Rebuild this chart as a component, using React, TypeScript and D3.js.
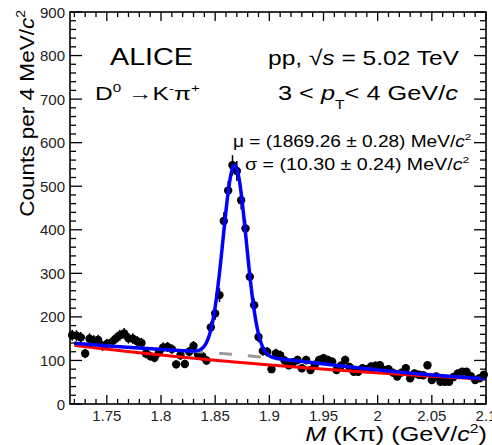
import React, { useEffect, useRef } from "react";
import * as d3 from "d3";

// ---------------- data ----------------
const BIN_LOW = 1.716; // GeV/c^2, lower edge of first bin
const BIN_WIDTH = 0.004; // 4 MeV/c^2
const counts = [
  158, 157, 153, 116, 150, 146, 147, 133, 138, 141,
  150, 158, 162, 151, 150, 144, 140, 116, 110, 106,
  118, 130, 131, 126, 91, 112, 92, 120, 133, 115,
  110, 100, 176, 208, 250, 420, 490, 548, 535, 468,
  403, 292, 227, 154, 122, 120, 80, 116, 112, 100,
  89, 96, 101, 82, 101, 78, 90, 101, 105, 101,
  97, 78, 88, 101, 85, 74, 74, 82, 80, 86,
  88, 89, 78, 80, 72, 63, 72, 82, 59, 70,
  67, 66, 89, 55, 63, 51, 51, 51, 62, 70,
  74, 74, 64, 55, 59, 67,
];
const X_DOMAIN = [1.716, 2.1];
const Y_DOMAIN = [0, 900];
const xMajorTicks = [1.75, 1.8, 1.85, 1.9, 1.95, 2.0, 2.05, 2.1];
const xTickLabels = ["1.75", "1.8", "1.85", "1.9", "1.95", "2", "2.05", "2.1"];
const yMajorTicks = [0, 100, 200, 300, 400, 500, 600, 700, 800, 900];
const yTickLabels = ["0", "100", "200", "300", "400", "500", "600", "700", "800", "900"];
const xMinorStep = 0.01;
const yMinorStep = 20;
// fit parameters (as drawn in the picture)
const FIT_RANGE = [1.72, 2.1];
const bkgParams = [136, 2.26]; // A * exp(-b (m - BIN_LOW))
const reflParams = [17, 1.87, 0.095]; // amplitude, centre, width
const signalParams = [435, 1.868, 0.0107]; // amplitude, mu, sigma

const FONT = "'Liberation Sans', Arial, Helvetica, sans-serif";

type Part = { t: string; it?: boolean; sup?: boolean; sub?: boolean };

export default function App() {
  const ref = useRef<SVGSVGElement | null>(null);

  useEffect(() => {
    const W = 492,
      H = 445;
    const L = 70,
      R = 486,
      T = 12,
      B = 404;
    const svg = d3.select(ref.current);
    svg.selectAll("*").remove();
    svg.append("rect").attr("width", W).attr("height", H).attr("fill", "#fff");

    const x = d3.scaleLinear().domain(X_DOMAIN).range([L, R]);
    const y = d3.scaleLinear().domain(Y_DOMAIN).range([B, T]);

    const bkg = (m: number) => bkgParams[0] * Math.exp(-bkgParams[1] * (m - BIN_LOW));
    const refl = (m: number) =>
      reflParams[0] * Math.exp(-((m - reflParams[1]) ** 2) / (2 * reflParams[2] ** 2));
    const sig = (m: number) =>
      signalParams[0] * Math.exp(-((m - signalParams[1]) ** 2) / (2 * signalParams[2] ** 2));

    // data points
    const pts = counts.map((c, i) => ({ m: BIN_LOW + BIN_WIDTH * (i + 0.5), c }));
    const gp = svg.append("g");
    gp.selectAll("line.err")
      .data(pts)
      .enter()
      .append("line")
      .attr("x1", (d) => x(d.m))
      .attr("x2", (d) => x(d.m))
      .attr("y1", (d) => y(d.c + Math.sqrt(d.c)))
      .attr("y2", (d) => y(d.c - Math.sqrt(d.c)))
      .attr("stroke", "#000")
      .attr("stroke-width", 1.5);
    gp.selectAll("circle")
      .data(pts)
      .enter()
      .append("circle")
      .attr("cx", (d) => x(d.m))
      .attr("cy", (d) => y(d.c))
      .attr("r", 4.2)
      .attr("fill", "#000");

    // fit curves
    const ms = d3.range(FIT_RANGE[0], FIT_RANGE[1] + 1e-9, 0.0005);
    const line = d3
      .line<number>()
      .x((m) => x(m))
      .curve(d3.curveLinear);
    svg
      .append("path")
      .attr("d", line.y((m) => y(bkg(m) + refl(m)))(ms))
      .attr("fill", "none")
      .attr("stroke", "#9a9a9a")
      .attr("stroke-width", 3)
      .attr("stroke-dasharray", "13,16");
    svg
      .append("path")
      .attr("d", line.y((m) => y(bkg(m)))(ms))
      .attr("fill", "none")
      .attr("stroke", "#ff0000")
      .attr("stroke-width", 3);
    svg
      .append("path")
      .attr("d", line.y((m) => y(bkg(m) + refl(m) + sig(m)))(ms))
      .attr("fill", "none")
      .attr("stroke", "#0000ff")
      .attr("stroke-width", 3.5);

    // frame and ticks
    const ax = svg.append("g").attr("stroke", "#000").attr("stroke-width", 1.3);
    const xMinor = d3.range(1.72, 2.1 + 1e-9, xMinorStep).map((v) => +v.toFixed(3));
    const isMajorX = (v: number) => xMajorTicks.some((t) => Math.abs(t - v) < 1e-6);
    xMinor.forEach((v) => {
      const len = isMajorX(v) ? 9 : 5;
      ax.append("line").attr("x1", x(v)).attr("x2", x(v)).attr("y1", B).attr("y2", B - len);
      ax.append("line").attr("x1", x(v)).attr("x2", x(v)).attr("y1", T).attr("y2", T + len);
    });
    const yMinor = d3.range(0, 900 + 1e-9, yMinorStep);
    yMinor.forEach((v) => {
      const len = v % 100 === 0 ? 12 : 6;
      ax.append("line").attr("x1", L).attr("x2", L + len).attr("y1", y(v)).attr("y2", y(v));
      ax.append("line").attr("x1", R).attr("x2", R - len).attr("y1", y(v)).attr("y2", y(v));
    });
    svg
      .append("rect")
      .attr("x", L)
      .attr("y", T)
      .attr("width", R - L)
      .attr("height", B - T)
      .attr("fill", "none")
      .attr("stroke", "#000")
      .attr("stroke-width", 1.6);

    // tick labels
    const tl = svg.append("g").attr("font-family", FONT).attr("font-size", 15).attr("fill", "#222");
    xMajorTicks.forEach((v, i) => {
      tl.append("text")
        .attr("x", x(v))
        .attr("y", 421)
        .attr("text-anchor", "middle")
        .text(xTickLabels[i]);
    });
    yMajorTicks.forEach((v, i) => {
      tl.append("text")
        .attr("x", 65)
        .attr("y", y(v) + 5.5)
        .attr("text-anchor", "end")
        .text(yTickLabels[i]);
    });

    // rich text helper
    const addText = (
      parts: Part[],
      px: number,
      py: number,
      size: number,
      width: number,
      anchor: string = "start",
      rotate = false
    ) => {
      const t = svg
        .append("text")
        .attr("font-family", FONT)
        .attr("font-size", size)
        .attr("fill", "#000")
        .attr("text-anchor", anchor);
      let shift = 0;
      parts.forEach((p) => {
        const ts = t.append("tspan").text(p.t);
        if (p.it) ts.attr("font-style", "italic");
        let target = 0;
        if (p.sup) {
          ts.attr("font-size", size * 0.62);
          target = -size * 0.42;
        } else if (p.sub) {
          ts.attr("font-size", size * 0.62);
          target = size * 0.45;
        }
        ts.attr("dy", target - shift);
        shift = target;
      });
      const w = (t.node() as SVGTextElement).getBBox().width;
      const sx = w > 0 ? width / w : 1;
      t.attr(
        "transform",
        `translate(${px},${py})${rotate ? " rotate(-90)" : ""} scale(${sx},1)`
      );
    };

    addText([{ t: "ALICE" }], 110, 65, 23, 83);
    addText(
      [{ t: "pp, \u221A" }, { t: "s", it: true }, { t: " = 5.02 TeV" }],
      268,
      65,
      21,
      191
    );
    addText(
      [{ t: "D" }, { t: "0", sup: true }, { t: " \u2192K" }, { t: "-", sup: true }, { t: "\u03C0" }, { t: "+", sup: true }],
      95,
      100,
      19,
      105
    );
    addText(
      [
        { t: "3 < " },
        { t: "p", it: true },
        { t: "T", sub: true },
        { t: "< 4 GeV/" },
        { t: "c", it: true },
      ],
      278,
      100,
      20,
      180
    );
    addText(
      [{ t: "\u03BC = (1869.26 \u00B1 0.28) MeV/" }, { t: "c", it: true }, { t: "2", sup: true }],
      233,
      147,
      16,
      239
    );
    addText(
      [{ t: "\u03C3 = (10.30 \u00B1 0.24) MeV/" }, { t: "c", it: true }, { t: "2", sup: true }],
      245,
      170,
      16,
      225
    );
    // axis titles
    addText(
      [
        { t: "M", it: true },
        { t: " (K\u03C0) (GeV/" },
        { t: "c", it: true },
        { t: "2", sup: true },
        { t: ")" },
      ],
      487,
      441,
      20,
      182,
      "end"
    );
    addText(
      [{ t: "Counts per 4 MeV/" }, { t: "c", it: true }, { t: "2", sup: true }],
      34,
      10,
      21,
      207,
      "end",
      true
    );
  }, []);

  return (
    <svg
      ref={ref}
      width={492}
      height={445}
      style={{ position: "absolute", left: 0, top: 0, display: "block" }}
    />
  );
}
